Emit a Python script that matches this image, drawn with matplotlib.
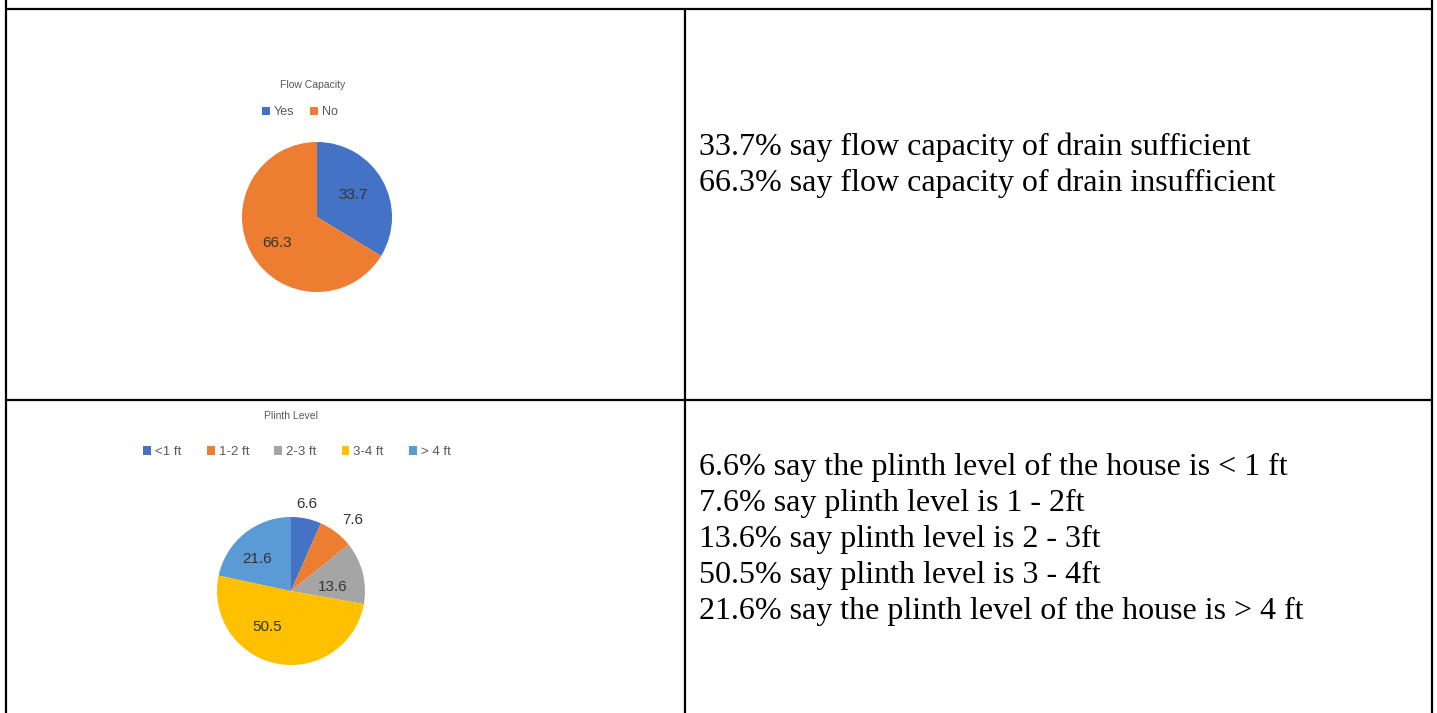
import numpy as np
import matplotlib
matplotlib.use("Agg")
import matplotlib.pyplot as plt
from matplotlib.patches import Patch

# Données
flow_labels = ["Yes", "No"]
flow_values = [33.7, 66.3]
flow_colors = ["#4472C4", "#ED7D31"]

plinth_labels = ["<1 ft", "1-2 ft", "2-3 ft", "3-4 ft", "> 4 ft"]
plinth_values = [6.6, 7.6, 13.6, 50.5, 21.6]
plinth_colors = ["#4472C4", "#ED7D31", "#A5A5A5", "#FFC000", "#5B9BD5"]

flow_text = [
    "33.7% say flow capacity of drain sufficient",
    "66.3% say flow capacity of drain insufficient",
]
plinth_text = [
    "6.6% say the plinth level of the house is < 1 ft",
    "7.6% say plinth level is 1 - 2ft",
    "13.6% say plinth level is 2 - 3ft",
    "50.5% say plinth level is 3 - 4ft",
    "21.6% say the plinth level of the house is > 4 ft",
]

W, H = 1437, 713
fig = plt.figure(figsize=(W / 100, H / 100), dpi=100)
fig.patch.set_facecolor("white")

# Fond : grille du tableau et texte en pixels
bg = fig.add_axes([0, 0, 1, 1])
bg.set_xlim(0, W)
bg.set_ylim(H, 0)
bg.axis("off")

line_kw = dict(color="black", linewidth=1.6, solid_capstyle="butt")
bg.plot([6, 6], [0, H], **line_kw)
bg.plot([1432, 1432], [0, H], **line_kw)
bg.plot([6, 1432], [9, 9], **line_kw)
bg.plot([685, 685], [9, H], **line_kw)
bg.plot([6, 1432], [400, 400], **line_kw)

text_font = ["Liberation Serif", "DejaVu Serif"]
for i, line in enumerate(flow_text):
    bg.text(699, 147 + 36 * i, line, fontsize=23, family=text_font,
            va="center", ha="left", color="black")
for i, line in enumerate(plinth_text):
    bg.text(699, 467 + 36 * i, line, fontsize=23, family=text_font,
            va="center", ha="left", color="black")

label_font = "Liberation Sans"


def pie_axes(cx, cy, r):
    """Crée un axe carré centré sur (cx, cy) en pixels, de rayon r."""
    return fig.add_axes([(cx - r) / W, 1 - (cy + r) / H, 2 * r / W, 2 * r / H])


def draw_pie(cx, cy, r, values, colors, radii, shifts):
    ax = pie_axes(cx, cy, r)
    wedges, _ = ax.pie(values, colors=colors, startangle=90, counterclock=False,
                       radius=1, wedgeprops=dict(linewidth=0))
    ax.set_xlim(-1, 1)
    ax.set_ylim(-1, 1)
    for w, v, rad, sh in zip(wedges, values, radii, shifts):
        theta = np.deg2rad((w.theta1 + w.theta2) / 2 + sh)
        ax.text(rad * np.cos(theta), rad * np.sin(theta), f"{v}",
                ha="center", va="center", fontsize=11,
                family=label_font, color="#333333")
    return ax


# Graphique 1 : Flow Capacity
draw_pie(317, 217, 75, flow_values, flow_colors, [0.56, 0.64], [2, 4])
bg.text(313, 85, "Flow Capacity", ha="center", va="center", fontsize=7.5,
        family=label_font, color="#595959")
handles = [Patch(facecolor=c, label=l) for c, l in zip(flow_colors, flow_labels)]
fig.legend(handles=handles, loc="center", bbox_to_anchor=(300 / W, 1 - 112 / H),
           ncol=2, frameon=False, handlelength=0.6, handleheight=0.6,
           handletextpad=0.3, columnspacing=1.3, labelcolor="#595959",
           prop=dict(family=label_font, size=9))

# Graphique 2 : Plinth Level
draw_pie(291, 591, 74, plinth_values, plinth_colors,
         [1.19, 1.27, 0.57, 0.58, 0.63], [1.5, -3.3, -9.4, -22, 8])
bg.text(291, 416, "Plinth Level", ha="center", va="center", fontsize=7.5,
        family=label_font, color="#595959")
handles = [Patch(facecolor=c, label=l) for c, l in zip(plinth_colors, plinth_labels)]
fig.legend(handles=handles, loc="center", bbox_to_anchor=(297 / W, 1 - 452 / H),
           ncol=5, frameon=False, handlelength=0.6, handleheight=0.6,
           handletextpad=0.3, columnspacing=1.9, labelcolor="#595959",
           prop=dict(family=label_font, size=9.5))

fig.savefig("out.png", dpi=100, facecolor="white")
